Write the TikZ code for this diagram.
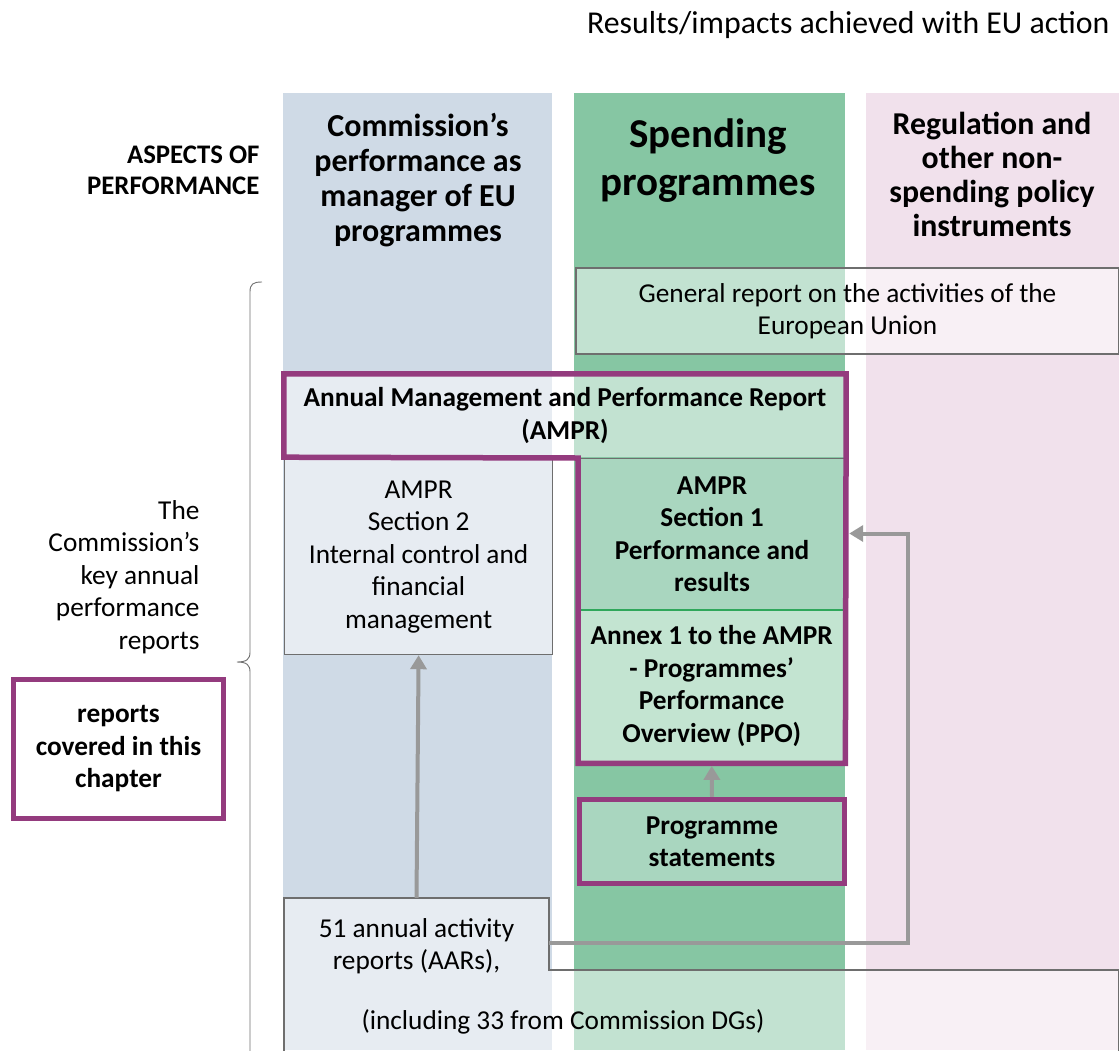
\documentclass[tikz,border=0pt]{standalone}
\usepackage{fontspec}
\setmainfont{Carlito}
\usetikzlibrary{arrows.meta}

\definecolor{mgrblue}{HTML}{CFDAE6}
\definecolor{spendgreen}{HTML}{86C6A3}
\definecolor{regpink}{HTML}{F1E1EC}
\definecolor{midgreen}{HTML}{A9D6BF}
\definecolor{palegreen}{HTML}{C3E4D1}
\definecolor{chapterpurple}{HTML}{943B7E}
\definecolor{linkgray}{HTML}{999999}
\definecolor{boxgray}{HTML}{6E6E6E}
\definecolor{splitgreen}{HTML}{2FA75B}

\tikzset{
  body/.style={font=\fontsize{27.3}{32.5}\selectfont, align=center},
  bodybold/.style={font=\fontsize{27.3}{32.5}\selectfont\bfseries, align=center},
  report/.style={draw=boxgray, line width=1.2pt, fill=white, fill opacity=0.5, text opacity=1},
  chapter/.style={draw=chapterpurple, line width=5.5pt},
  link/.style={draw=linkgray, line width=4pt, -{Triangle[length=14pt, width=16pt]}},
}

\begin{document}
\begin{tikzpicture}[x=1pt, y=-1pt]
\useasboundingbox (0,0) rectangle (1119,1050);

% the three columns
\fill[mgrblue] (283,93) rectangle (552,1050);
\fill[spendgreen] (574,93) rectangle (845,1050);
\fill[regpink] (866,93) rectangle (1119,1050);

\node[anchor=east, font=\fontsize{31.8}{36}\selectfont] (results) at (1113,25) {Results/impacts achieved with EU action};

% headings
\node[align=right, anchor=east, font=\fontsize{26.8}{31}\selectfont\bfseries] (aspects) at (263,170) {ASPECTS OF\\PERFORMANCE};
\node[align=center, font=\fontsize{32}{35}\selectfont\bfseries] (hdmanager) at (418,180) {Commission's\\performance as\\manager of EU\\programmes};
\node[align=center, font=\fontsize{41}{48}\selectfont\bfseries] (hdspending) at (708,161) {Spending\\programmes};
\node[align=center, font=\fontsize{31.8}{34}\selectfont\bfseries] (hdregulation) at (992,174) {Regulation and\\other non-\\spending policy\\instruments};

% reports
\node[report, body, minimum width=543, minimum height=86] (general) at (847.5,311) {General report on the activities of the\\European Union};
\node[fill=white, fill opacity=0.5, text opacity=1, bodybold, minimum width=562, minimum height=83] (ampr) at (565,415.5) {Annual Management and Performance Report\\(AMPR)};
\node[report, body, anchor=north west, minimum width=268, minimum height=196] (sectiontwo) at (284,458) {AMPR\\Section 2\\Internal control and\\financial\\management};
\node[draw=boxgray, line width=1.2pt, fill=midgreen, bodybold, anchor=north west, minimum width=267, minimum height=151] (sectionone) at (578,458) {AMPR\\Section 1\\Performance and\\results};
\node[fill=palegreen, bodybold, anchor=north west, minimum width=267, minimum height=154] (annex) at (578,609) {Annex 1 to the AMPR\\- Programmes'\\Performance\\Overview (PPO)};
\draw[splitgreen, line width=1.5pt] (sectionone.south west) -- (sectionone.south east);
\draw[chapter] (ampr.north west) -- (ampr.north east) -- (annex.south east) -- (annex.south west)
  -- (sectionone.north west) -- (ampr.south west) -- cycle;

\node[chapter, fill=midgreen, bodybold, minimum width=265, minimum height=84] (statements) at (712,841.5) {Programme\\statements};

% annual activity reports
\draw[report] (284,898) -- (549,898) -- (549,970) -- (1119,970) -- (1119,1060) -- (284,1060) -- cycle;
\node[body, minimum width=265, minimum height=96] (aar) at (416.5,946) {51 annual activity\\reports (AARs),};
\node[body] (aarnote) at (563,1022) {(including 33 from Commission DGs)};

\draw[link] (aar.north) -- (sectiontwo.south);
\draw[link] (statements.north) -- ([yshift=-2.5pt]annex.south);
\draw[link] ([yshift=3pt]aar.east) -| (908,533.5) -- ([xshift=3pt]sectionone.east |- 908,533.5);

% brace and left texts
\draw[boxgray, line width=0.9pt] (262,282) .. controls (253,282) and (250,284) .. (250,292) -- (250,652)
  .. controls (250,659) and (247,662) .. (237,662) .. controls (247,662) and (250,665) .. (250,672) -- (250,1052);
\node[body, align=right, anchor=east] (keyreports) at (203,577) {The\\Commission's\\key annual\\performance\\reports};
\node[chapter, fill=white, bodybold, minimum width=210, minimum height=139] (thischapter) at (118.5,749) {reports\\covered in this\\chapter};

\end{tikzpicture}
\end{document}
